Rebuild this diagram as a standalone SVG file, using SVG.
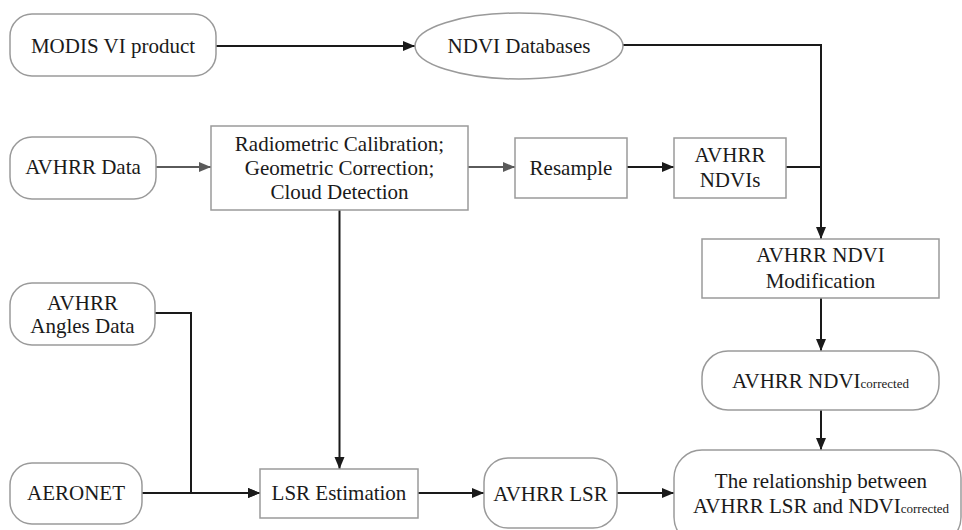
<svg xmlns="http://www.w3.org/2000/svg" width="962" height="530" viewBox="0 0 962 530">
<style>
.n{fill:#fff;stroke:#9a9a9a;stroke-width:1.5}
.t{font-family:'Liberation Serif','DejaVu Serif',serif;font-size:21px;fill:#1a1a1a;text-anchor:middle}
.s{font-size:13px}
.c{fill:none;stroke:#1a1a1a;stroke-width:2}
.g{fill:none;stroke:#5a5a5a;stroke-width:2}
</style>
<defs>
<marker id="ab" markerUnits="userSpaceOnUse" markerWidth="12" markerHeight="12" viewBox="0 0 12 12" refX="12" refY="6" orient="auto"><path d="M0,1 L12,6 L0,11 Z" fill="#1a1a1a"/></marker>
<marker id="ag" markerUnits="userSpaceOnUse" markerWidth="12" markerHeight="12" viewBox="0 0 12 12" refX="12" refY="6" orient="auto"><path d="M0,1 L12,6 L0,11 Z" fill="#5a5a5a"/></marker>
</defs>
<rect width="962" height="530" fill="#fff"/>
<g id="connectors">
<path class="c" d="M216,46 H415" marker-end="url(#ab)"/>
<path class="c" d="M623,45 H821 V239" marker-end="url(#ab)"/>
<path class="c" d="M786,167 H821"/>
<path class="g" d="M156,167 H211" marker-end="url(#ag)"/>
<path class="g" d="M468,167 H515" marker-end="url(#ag)"/>
<path class="c" d="M627,167 H674" marker-end="url(#ab)"/>
<path class="c" d="M339.5,210 V469" marker-end="url(#ab)"/>
<path class="c" d="M155,313 H191 V493 H260" marker-end="url(#ab)"/>
<path class="c" d="M142,493 H260" marker-end="url(#ab)"/>
<path class="c" d="M418,493 H484" marker-end="url(#ab)"/>
<path class="c" d="M617,493 H674" marker-end="url(#ab)"/>
<path class="c" d="M821,298 V351" marker-end="url(#ab)"/>
<path class="c" d="M821,410 V450" marker-end="url(#ab)"/>
</g>
<g id="modis"><rect class="n" x="10" y="14" width="206" height="62" rx="22"/><text class="t" x="113" y="53">MODIS VI product</text></g>
<g id="ndvidb"><ellipse class="n" cx="519" cy="46" rx="104" ry="33"/><text class="t" x="519" y="53">NDVI Databases</text></g>
<g id="avhrrdata"><rect class="n" x="10" y="137" width="146" height="62" rx="22"/><text class="t" x="83" y="174">AVHRR Data</text></g>
<g id="radiometric"><rect class="n" x="211" y="126" width="257" height="84"/><text class="t" x="339.5" y="151">Radiometric Calibration;</text><text class="t" x="339.5" y="175">Geometric Correction;</text><text class="t" x="339.5" y="199">Cloud Detection</text></g>
<g id="resample"><rect class="n" x="515" y="138" width="112" height="60"/><text class="t" x="571" y="175">Resample</text></g>
<g id="ndvis"><rect class="n" x="674" y="138" width="112" height="60"/><text class="t" x="730" y="162">AVHRR</text><text class="t" x="730" y="187">NDVIs</text></g>
<g id="modification"><rect class="n" x="702" y="239" width="237" height="59"/><text class="t" x="820.5" y="262">AVHRR NDVI</text><text class="t" x="820.5" y="288">Modification</text></g>
<g id="ndvicorrected"><rect class="n" x="702" y="351" width="237" height="59" rx="26"/><text class="t" x="820.5" y="388">AVHRR NDVI<tspan class="s">corrected</tspan></text></g>
<g id="angles"><rect class="n" x="10" y="283" width="145" height="62" rx="22"/><text class="t" x="82.5" y="310">AVHRR</text><text class="t" x="82.5" y="333">Angles Data</text></g>
<g id="aeronet"><rect class="n" x="10" y="463" width="132" height="61" rx="22"/><text class="t" x="76" y="500">AERONET</text></g>
<g id="lsrest"><rect class="n" x="260" y="469" width="158" height="49"/><text class="t" x="339" y="500">LSR Estimation</text></g>
<g id="avhrrlsr"><rect class="n" x="484" y="458" width="133" height="70" rx="24"/><text class="t" x="550.5" y="501">AVHRR LSR</text></g>
<g id="relationship"><rect class="n" x="674" y="450" width="287" height="95" rx="28"/><text class="t" x="821" y="488">The relationship between</text><text class="t" x="821" y="513">AVHRR LSR and NDVI<tspan class="s">corrected</tspan></text></g>
</svg>
